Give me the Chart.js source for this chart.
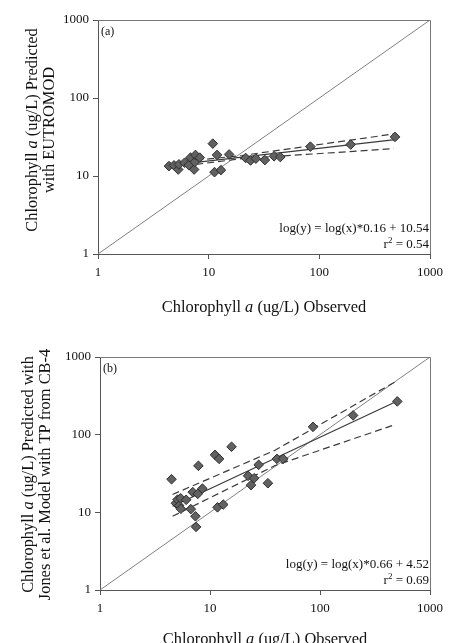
<!DOCTYPE html>
<html>
<head>
<meta charset="utf-8">
<script src="https://cdn.jsdelivr.net/npm/chart.js@4/dist/chart.umd.min.js"></script>
<style>
  html, body { margin: 0; padding: 0; background: #fff; }
  canvas { display: block; }
</style>
</head>
<body>
<canvas id="chartA" width="449" height="322"></canvas>
<canvas id="chartB" width="449" height="321"></canvas>
<script>
// ---------- data ----------
const tickValues = [1, 10, 100, 1000];
const oneToOne = [1, 1000];

// Panel (a): EUTROMOD
const obsA  = [4.38, 4.86, 5.31, 5.39, 6.06, 6.62, 6.85, 7.39, 7.49, 7.60, 8.30, 10.9, 11.3, 11.9, 12.9, 15.3, 21.6, 23.9, 26.7, 32.2, 39.0, 44.4, 83.0, 192, 483];
const predA = [13.4, 13.7, 12.1, 14.1, 14.8, 13.8, 17.2, 12.1, 15.1, 18.6, 17.2, 26.0, 11.2, 18.6, 11.9, 18.9, 17.0, 15.8, 16.7, 16.0, 17.9, 17.5, 23.8, 25.3, 31.7];
const fitAx   = [4.9, 483];
const fitAy   = [13.9, 29.3];
const upperAx = [4.9, 20, 470];
const upperAy = [14.9, 18.3, 34.6];
const lowerAx = [4.9, 20, 470];
const lowerAy = [13.0, 16.7, 22.4];

// Panel (b): Jones et al. model with TP from CB-4
const obsB  = [4.47, 4.90, 5.07, 5.25, 5.43, 5.40, 6.07, 6.69, 6.97, 7.37, 7.47, 7.74, 7.85, 8.53, 11.1, 11.7, 12.1, 13.2, 15.7, 22.2, 23.6, 25.2, 27.7, 33.6, 40.6, 46.3, 86.4, 200, 504];
const predB = [26.7, 13.1, 14.6, 12.2, 11.1, 15.2, 14.5, 11.0, 18.2, 8.9, 6.49, 17.3, 39.7, 20.2, 55.0, 11.6, 48.8, 12.6, 69.8, 29.5, 22.4, 27.5, 40.9, 23.7, 48.8, 48.8, 126, 177, 268];
const fitBx   = [4.57, 500];
const fitBy   = [12.0, 269];
const upperBx = [4.57, 39, 482];
const upperBy = [17.0, 63, 479];
const lowerBx = [4.57, 39, 482];
const lowerBy = [8.9, 40, 135];

// ---------- helpers ----------
const SERIF = '"Liberation Serif", "DejaVu Serif", serif';
const pts = (xs, ys) => xs.map((x, i) => ({ x: x, y: ys[i] }));

function drawSegments(ctx, segs, x, y, align) {
  let total = 0;
  segs.forEach(s => {
    ctx.font = (s.italic ? 'italic ' : '') + s.size + 'px ' + SERIF;
    s.w = ctx.measureText(s.t).width;
    total += s.w;
  });
  let cx = align === 'right' ? x - total : (align === 'center' ? x - total / 2 : x);
  segs.forEach(s => {
    ctx.font = (s.italic ? 'italic ' : '') + s.size + 'px ' + SERIF;
    ctx.fillText(s.t, cx, y + (s.sup ? -s.size * 0.45 : 0));
    cx += s.w;
  });
}

function makeChart(id, cfg) {
  const textPlugin = {
    id: 'texts_' + id,
    afterDraw(chart) {
      const ctx = chart.ctx;
      const a = chart.chartArea;
      ctx.save();
      // top and right frame
      ctx.strokeStyle = '#777';
      ctx.lineWidth = 1;
      ctx.beginPath();
      ctx.moveTo(a.left, a.top + 0.5);
      ctx.lineTo(a.right + 0.5, a.top + 0.5);
      ctx.lineTo(a.right + 0.5, a.bottom);
      ctx.stroke();
      ctx.fillStyle = '#111';
      ctx.textBaseline = 'middle';
      // panel label
      drawSegments(ctx, [{ t: cfg.panel, size: 12 }], a.left + 3, a.top + 12, 'left');
      // regression equation
      drawSegments(ctx, [{ t: cfg.eq, size: 13 }], a.right - 1, cfg.eqY, 'right');
      drawSegments(ctx, [{ t: 'r', size: 13 }, { t: '2', size: 9, sup: true }, { t: ' = ' + cfg.r2, size: 13 }], a.right - 1, cfg.eqY + 16, 'right');
      // x title
      drawSegments(ctx, [{ t: 'Chlorophyll ', size: 16.4 }, { t: 'a', size: 16.4, italic: true }, { t: ' (ug/L) Observed', size: 16.4 }], (a.left + a.right) / 2, cfg.xTitleY, 'center');
      // y title
      ctx.translate(cfg.yTitleX, (a.top + a.bottom) / 2 + cfg.yTitleShift);
      ctx.rotate(-Math.PI / 2);
      drawSegments(ctx, cfg.yLine1, 0, 0, 'center');
      drawSegments(ctx, cfg.yLine2, 0, 16.5, 'center');
      ctx.restore();
    }
  };

  const axisCommon = {
    type: 'logarithmic',
    min: 1,
    max: 1000,
    afterBuildTicks: s => { s.ticks = tickValues.map(v => ({ value: v })); },
    ticks: {
      autoSkip: false,
      maxRotation: 0,
      color: '#111',
      font: { family: SERIF, size: 13 },
      callback: v => String(v)
    },
    grid: { display: true, drawOnChartArea: false, drawTicks: true, tickLength: 5, color: '#555' },
    border: { display: true, color: '#555', width: 1 }
  };

  return new Chart(document.getElementById(id), {
    type: 'scatter',
    data: {
      datasets: [
        {
          data: pts(cfg.obs, cfg.pred),
          pointStyle: 'rectRot',
          pointRadius: 4.8,
          backgroundColor: '#616161',
          borderColor: '#2e2e2e',
          borderWidth: 1,
          order: 0
        },
        {
          data: pts(cfg.fitX, cfg.fitY),
          showLine: true, pointRadius: 0, borderColor: '#3a3a3a', borderWidth: 1.2, order: 1
        },
        {
          data: pts(cfg.upX, cfg.upY),
          showLine: true, pointRadius: 0, borderColor: '#3a3a3a', borderWidth: 1.2, borderDash: [7, 4], order: 2
        },
        {
          data: pts(cfg.loX, cfg.loY),
          showLine: true, pointRadius: 0, borderColor: '#3a3a3a', borderWidth: 1.2, borderDash: [7, 4], order: 3
        },
        {
          data: pts(oneToOne, oneToOne),
          showLine: true, pointRadius: 0, borderColor: '#808080', borderWidth: 1, order: 4
        }
      ]
    },
    options: {
      responsive: false,
      animation: false,
      devicePixelRatio: 1,
      layout: { padding: { left: 0, top: cfg.padTop, right: cfg.padRight, bottom: 0 } },
      plugins: { legend: { display: false }, tooltip: { enabled: false } },
      scales: {
        x: Object.assign({}, axisCommon, {
          position: 'bottom',
          ticks: Object.assign({}, axisCommon.ticks, { padding: 6 }),
          afterFit: s => { s.height = cfg.xHeight; }
        }),
        y: Object.assign({}, axisCommon, {
          position: 'left',
          ticks: Object.assign({}, axisCommon.ticks, { padding: 4 }),
          afterFit: s => { s.width = cfg.yWidth; }
        })
      }
    },
    plugins: [textPlugin]
  });
}

makeChart('chartA', {
  obs: obsA, pred: predA,
  fitX: fitAx, fitY: fitAy, upX: upperAx, upY: upperAy, loX: lowerAx, loY: lowerAy,
  panel: '(a)', eq: 'log(y) = log(x)*0.16 + 10.54', r2: '0.54',
  padTop: 20, padRight: 17, xHeight: 68, yWidth: 98,
  eqY: 229, xTitleY: 308, yTitleX: 33, yTitleShift: -7,
  yLine1: [{ t: 'Chlorophyll ', size: 16.4 }, { t: 'a', size: 16.4, italic: true }, { t: ' (ug/L) Predicted', size: 16.4 }],
  yLine2: [{ t: 'with EUTROMOD', size: 16.4 }]
});

makeChart('chartB', {
  obs: obsB, pred: predB,
  fitX: fitBx, fitY: fitBy, upX: upperBx, upY: upperBy, loX: lowerBx, loY: lowerBy,
  panel: '(b)', eq: 'log(y) = log(x)*0.66 + 4.52', r2: '0.69',
  padTop: 35, padRight: 16, xHeight: 53, yWidth: 100,
  eqY: 243, xTitleY: 318, yTitleX: 29, yTitleShift: 1,
  yLine1: [{ t: 'Chlorophyll ', size: 16.4 }, { t: 'a', size: 16.4, italic: true }, { t: ' (ug/L) Predicted with', size: 16.4 }],
  yLine2: [{ t: 'Jones et al. Model with TP from CB-4', size: 16.4 }]
});
</script>
</body>
</html>
